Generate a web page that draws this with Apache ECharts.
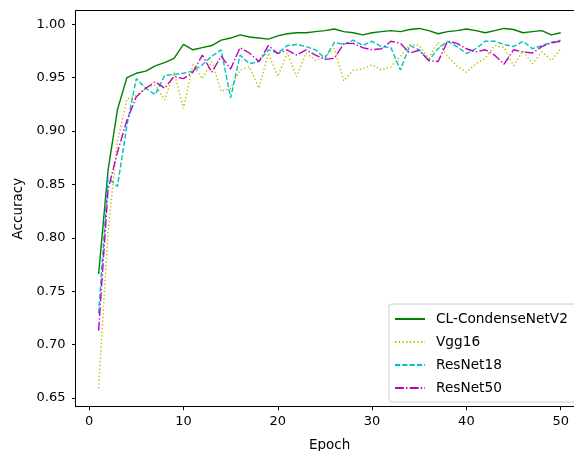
<!DOCTYPE html>
<html>
<head>
<meta charset="utf-8">
<script src="https://cdn.jsdelivr.net/npm/echarts@6/dist/echarts.min.js"></script>
<style>
html,body{margin:0;padding:0;background:#fff;overflow:hidden;}
#chart{width:574px;height:451px;}
</style>
</head>
<body>
<div id="chart"></div>
<script>
const epochs = Array.from({length: 50}, (_, i) => i + 1);
const seriesNames = ['CL-CondenseNetV2', 'Vgg16', 'ResNet18', 'ResNet50'];
const condenseNetV2 = [0.766,0.863,0.920,0.950,0.954,0.956,0.961,0.964,0.968,0.981,
  0.976,0.978,0.980,0.985,0.987,0.990,0.988,0.987,0.986,0.989,
  0.991,0.992,0.992,0.993,0.994,0.9955,0.993,0.992,0.990,0.992,
  0.993,0.994,0.993,0.995,0.996,0.994,0.991,0.993,0.994,0.9955,
  0.994,0.992,0.994,0.996,0.995,0.992,0.993,0.994,0.990,0.992];
const vgg16 = [0.659,0.805,0.890,0.930,0.933,0.940,0.943,0.929,0.955,0.921,
  0.962,0.949,0.965,0.937,0.940,0.957,0.960,0.940,0.973,0.951,
  0.973,0.951,0.973,0.966,0.970,0.977,0.947,0.957,0.958,0.962,
  0.957,0.960,0.970,0.981,0.980,0.968,0.983,0.970,0.961,0.955,
  0.963,0.968,0.980,0.978,0.961,0.975,0.963,0.974,0.966,0.977];
const resNet18 = [0.729,0.856,0.848,0.905,0.949,0.940,0.934,0.952,0.953,0.954,
  0.956,0.962,0.970,0.976,0.931,0.971,0.963,0.965,0.976,0.973,
  0.980,0.981,0.979,0.976,0.968,0.983,0.981,0.985,0.980,0.984,
  0.979,0.978,0.957,0.980,0.976,0.966,0.977,0.984,0.979,0.9725,
  0.977,0.984,0.984,0.981,0.979,0.984,0.977,0.980,0.983,0.985];
const resNet50 = [0.713,0.845,0.880,0.910,0.932,0.940,0.946,0.940,0.951,0.949,
  0.955,0.971,0.955,0.970,0.958,0.978,0.973,0.965,0.980,0.9725,
  0.976,0.971,0.976,0.971,0.967,0.968,0.982,0.982,0.978,0.976,
  0.977,0.984,0.982,0.973,0.9756,0.966,0.965,0.984,0.982,0.977,
  0.974,0.976,0.971,0.9625,0.976,0.974,0.973,0.979,0.9825,0.984];
const xTicks = [0, 10, 20, 30, 40, 50];
const yTicks = [0.65, 0.70, 0.75, 0.80, 0.85, 0.90, 0.95, 1.00];

const font = 'DejaVu Sans';
const styles = [
  {color: '#008000', type: 'solid'},
  {color: '#bfbf00', type: [1.4, 2.3]},
  {color: '#00bfbf', type: [5.1, 2.2]},
  {color: '#bf00bf', type: [8.9, 2.2, 1.4, 2.2]}
];
const allData = [condenseNetV2, vgg16, resNet18, resNet50];
const spine = {show: true, onZero: false, lineStyle: {color: '#000', width: 1}};

const chart = echarts.init(document.getElementById('chart'), null, {renderer: 'canvas'});
chart.setOption({
  animation: false,
  backgroundColor: 'transparent',
  grid: {left: 75.5, top: 10.5, width: 508.3, height: 396.2, show: false,
         containLabel: false, outerBoundsMode: 'none'},
  xAxis: [{
    type: 'value', min: -1.45, max: 52.45,
    name: 'Epoch', nameLocation: 'middle', nameGap: 32,
    nameTextStyle: {fontFamily: font, fontSize: 13.5, color: '#000'},
    axisLine: spine,
    axisTick: {show: true, length: 3.5, lineStyle: {color: '#000', width: 1}, customValues: xTicks},
    axisLabel: {fontFamily: font, fontSize: 13, color: '#000', margin: 8, customValues: xTicks},
    splitLine: {show: false}
  }, {
    type: 'value', position: 'top', min: -1.45, max: 52.45,
    axisLine: spine, axisTick: {show: false}, axisLabel: {show: false}, splitLine: {show: false}
  }],
  yAxis: {
    type: 'value', min: 0.6418, max: 1.0128,
    name: 'Accuracy', nameLocation: 'middle', nameGap: 50, nameRotate: 90,
    nameTextStyle: {fontFamily: font, fontSize: 13.5, color: '#000'},
    axisLine: spine,
    axisTick: {show: true, length: 3.5, lineStyle: {color: '#000', width: 1}, customValues: yTicks},
    axisLabel: {fontFamily: font, fontSize: 13, color: '#000', margin: 10, customValues: yTicks,
                formatter: v => v.toFixed(2)},
    splitLine: {show: false}
  },
  legend: {
    orient: 'vertical', left: 389, top: 304,
    padding: [8, 18, 7, 5], itemWidth: 30, itemHeight: 14, itemGap: 9,
    backgroundColor: 'rgba(255,255,255,0.8)', borderColor: '#cccccc', borderWidth: 1, borderRadius: 3,
    itemStyle: {opacity: 0},
    textStyle: {fontFamily: font, fontSize: 13.7, color: '#000', padding: [0, 0, 0, 6]},
    data: seriesNames
  },
  series: seriesNames.map((name, i) => ({
    name: name, type: 'line', symbol: 'none', showSymbol: false,
    xAxisIndex: 0,
    data: epochs.map((e, j) => [e, allData[i][j]]),
    lineStyle: {color: styles[i].color, width: 1.4, type: styles[i].type},
    itemStyle: {color: styles[i].color},
    clip: true
  }))
});
</script>
</body>
</html>
